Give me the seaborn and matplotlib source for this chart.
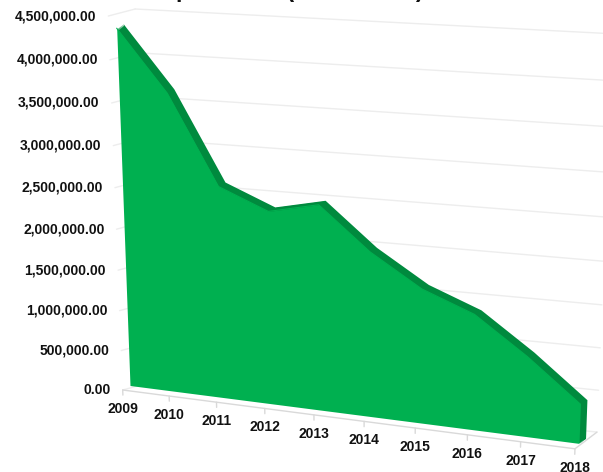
import numpy as np
import matplotlib
matplotlib.use("Agg")
import matplotlib.pyplot as plt
import matplotlib.transforms as mtransforms
from matplotlib.patches import ConnectionPatch
import seaborn as sns

# ---------------- DATA ----------------
years = ["2009", "2010", "2011", "2012", "2013", "2014", "2015", "2016", "2017", "2018"]
amounts = [4310000, 3600000, 2560000, 2320000, 2450000, 1960000, 1590000, 1360000, 940000, 460000]
y_ticks = [0, 500000, 1000000, 1500000, 2000000, 2500000, 3000000, 3500000, 4000000, 4500000]
title = "Expenditure (2009 - 2018)"

# ---------------- STYLE ----------------
GREEN = "#00B050"
GREEN_DARK = "#008A3E"
GRID = "#EDEDED"
AXIS = "#D9D9D9"
W, H = 603, 472
VMAX = 4500000

sns.set_theme(style="white")
plt.rcParams["font.family"] = ["Liberation Sans", "DejaVu Sans"]


# ---------------- 3D LOOK (perspective planes) ----------------
class Homography(mtransforms.Transform):
    input_dims = 2
    output_dims = 2
    is_separable = False
    has_inverse = True

    def __init__(self, matrix):
        super().__init__()
        self.matrix = np.asarray(matrix, float)

    def transform_non_affine(self, values):
        pts = np.asarray(values, float).reshape(-1, 2)
        hom = np.column_stack([pts, np.ones(len(pts))]) @ self.matrix.T
        return hom[:, :2] / hom[:, 2:3]

    def inverted(self):
        return Homography(np.linalg.inv(self.matrix))


fig = plt.figure(figsize=(W / 100, H / 100), dpi=100)
ax = fig.add_axes([0, 0, 1, 1])
ax.set_autoscale_on(False)
ax.set_xlim(0, 1)
ax.set_ylim(0, 1)
ax.axis("off")


def plane(origin, vp_x, end_x, vp_y, end_y, n_x=9):
    # maps (category index, value) onto a perspective plane given in picture pixels
    o = np.array(origin, float)
    a = np.array(vp_x, float)
    b = np.array(vp_y, float)
    tx = np.dot(np.array(end_x) - o, a - o) / np.dot(a - o, a - o)
    ty = np.dot(np.array(end_y) - o, b - o) / np.dot(b - o, b - o)
    kx = tx / (n_x * (1 - tx))
    ky = ty / (1 - ty)
    m = np.array([[kx * a[0], ky * b[0], o[0]],
                  [kx * a[1], ky * b[1], o[1]],
                  [kx, ky, 1.0]])
    flip = np.array([[1 / W, 0, 0], [0, -1 / H, 1], [0, 0, 1]])
    return mtransforms.Affine2D().scale(1, 1 / VMAX) + Homography(flip @ m) + ax.transAxes


VP_H = (-4800, -250)
VP_V = (360, 6550)
VP_WALL = (-6357, -328)

front = plane((122.7, 390), VP_H, (575, 448.5), VP_V, (108.6, 16))
face = plane((130, 385.5), VP_H, (579, 443.5), VP_V, (116, 11.5))
wall = plane((148, 383), VP_WALL, (597, 432), VP_V, (135, 9))

idx = np.arange(len(years))

# ---------------- WALLS / GRID ----------------
for v in y_ticks:
    ax.plot([0, len(years) - 1], [v, v], transform=wall, color=GRID, lw=1, zorder=1)
    ax.add_artist(ConnectionPatch(xyA=(0, v), coordsA=front, xyB=(0, v), coordsB=wall,
                                  color=GRID, lw=1, zorder=1))
ax.add_artist(ConnectionPatch(xyA=(len(years) - 1, 0), coordsA=front,
                              xyB=(len(years) - 1, 0), coordsB=wall,
                              color=AXIS, lw=1, zorder=1))

# ---------------- AREA ----------------
# top / end sides of the slab
steps = 6
for k in range(1, steps + 1):
    shift = face + mtransforms.Affine2D().translate(6.5 * k / steps, 4.5 * k / steps)
    ax.fill_between(idx, 0, amounts, transform=shift, color=GREEN_DARK, lw=0, zorder=2)

ax.fill_between(idx, 0, amounts, transform=face, color=GREEN, lw=0, zorder=3)
sns.lineplot(x=idx, y=amounts, ax=ax, transform=face, color=GREEN, lw=0.8, zorder=3.1)

# ---------------- AXES ----------------
ax.plot([0, len(years) - 1], [0, 0], transform=front, color=AXIS, lw=1, zorder=4)
for i, year in enumerate(years):
    ax.plot([i, i], [0, -65000], transform=front, color=AXIS, lw=1, zorder=4)
    ax.annotate(year, xy=(i, 0), xycoords=front, xytext=(0, -19), textcoords="offset pixels",
                ha="center", va="center", fontsize=10, fontweight="bold", color="#111111")

for v in y_ticks:
    ax.annotate(f"{v:,.2f}", xy=(0, v), xycoords=front, xytext=(-12, 0), textcoords="offset pixels",
                ha="right", va="center", fontsize=10, fontweight="bold", color="#111111")

# title sits mostly above the visible area, as in the source picture
fig.text(286 / W, 1 + 2.5 / H, title, ha="center", va="baseline",
         fontsize=16.5, fontweight="bold", color="#111111")

fig.savefig("out.png", dpi=100)
